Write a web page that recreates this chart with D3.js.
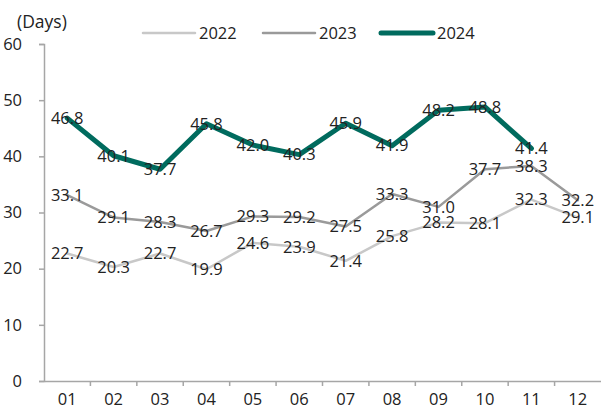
<!DOCTYPE html>
<html>
<head>
<meta charset="utf-8">
<script src="https://cdn.jsdelivr.net/npm/d3@7"></script>
<style>
  body { margin: 0; background: #fff; }
  text { font-family: "Open Sans", "Noto Sans", sans-serif; fill: #222; }
</style>
</head>
<body>
<div id="chart"></div>
<script>
// data
const months = ["01", "02", "03", "04", "05", "06", "07", "08", "09", "10", "11", "12"];
const yTicks = [0, 10, 20, 30, 40, 50, 60];
const values2022 = [22.7, 20.3, 22.7, 19.9, 24.6, 23.9, 21.4, 25.8, 28.2, 28.1, 32.3, 29.1];
const values2023 = [33.1, 29.1, 28.3, 26.7, 29.3, 29.2, 27.5, 33.3, 31.0, 37.7, 38.3, 32.2];
const values2024 = [46.8, 40.1, 37.7, 45.8, 42.0, 40.3, 45.9, 41.9, 48.2, 48.8, 41.4];

const series = [
    { name: "2022", values: values2022, color: "#c8c8c8", width: 2.5 },
    { name: "2023", values: values2023, color: "#9a9a9a", width: 2.5 },
    { name: "2024", values: values2024, color: "#006b5e", width: 5 }
];

const width = 601, height = 410;
const margin = { top: 44, right: 0, bottom: 29, left: 44 };

const svg = d3.select("#chart").append("svg")
    .attr("width", width)
    .attr("height", height);

const x = d3.scaleBand()
    .domain(months)
    .range([margin.left, width - margin.right]);

const y = d3.scaleLinear()
    .domain([0, 60])
    .range([height - margin.bottom, margin.top]);

const axisColor = "#a6a6a6";

// y axis
const yAxis = svg.append("g")
    .attr("transform", `translate(${margin.left},0)`)
    .call(d3.axisLeft(y).tickValues(yTicks).tickSize(5).tickPadding(17));
yAxis.selectAll("path, line").attr("stroke", axisColor).attr("stroke-width", 1.5);
yAxis.selectAll("text").style("font-size", "16.5px").attr("fill", "#222");

// x axis
const xAxis = svg.append("g")
    .attr("transform", `translate(0,${height - margin.bottom})`)
    .call(d3.axisBottom(x).tickSize(0).tickPadding(12));
xAxis.select(".domain").attr("stroke", axisColor).attr("stroke-width", 1.5);
xAxis.selectAll("text").style("font-size", "16.5px").attr("fill", "#222");
// ticks between categories
xAxis.selectAll(".sep")
    .data(months.slice(1))
    .enter()
    .append("line")
    .attr("class", "sep")
    .attr("x1", d => x(d))
    .attr("x2", d => x(d))
    .attr("y1", 0)
    .attr("y2", 5)
    .attr("stroke", axisColor)
    .attr("stroke-width", 1.5);

// unit label
svg.append("text")
    .attr("x", 17)
    .attr("y", 28)
    .style("font-size", "17.5px")
    .text("(Days)");

const line = d3.line()
    .x((d, i) => x(months[i]) + x.bandwidth() / 2)
    .y(d => y(d));

// lines
svg.selectAll(".series")
    .data(series)
    .enter()
    .append("path")
    .attr("class", "series")
    .attr("fill", "none")
    .attr("stroke", d => d.color)
    .attr("stroke-width", d => d.width)
    .attr("stroke-linejoin", "round")
    .attr("stroke-linecap", "round")
    .attr("d", d => line(d.values));

// value labels (centred on the points, as in the reference)
series.forEach(s => {
    svg.selectAll(null)
        .data(s.values)
        .enter()
        .append("text")
        .attr("x", (d, i) => x(months[i]) + x.bandwidth() / 2)
        .attr("y", d => y(d))
        .attr("dy", "0.35em")
        .attr("text-anchor", "middle")
        .style("font-size", "16.5px")
        .text(d => d.toFixed(1));
});

// legend
const legendX = [141, 261, 379];
const legend = svg.selectAll(".legend")
    .data(series)
    .enter()
    .append("g")
    .attr("class", "legend")
    .attr("transform", (d, i) => `translate(${legendX[i]},33)`);

legend.append("line")
    .attr("x1", 2)
    .attr("x2", 54)
    .attr("stroke", d => d.color)
    .attr("stroke-width", d => d.width)
    .attr("stroke-linecap", "round");

legend.append("text")
    .attr("x", 58)
    .attr("dy", "0.35em")
    .style("font-size", "16.5px")
    .text(d => d.name);
</script>
</body>
</html>
